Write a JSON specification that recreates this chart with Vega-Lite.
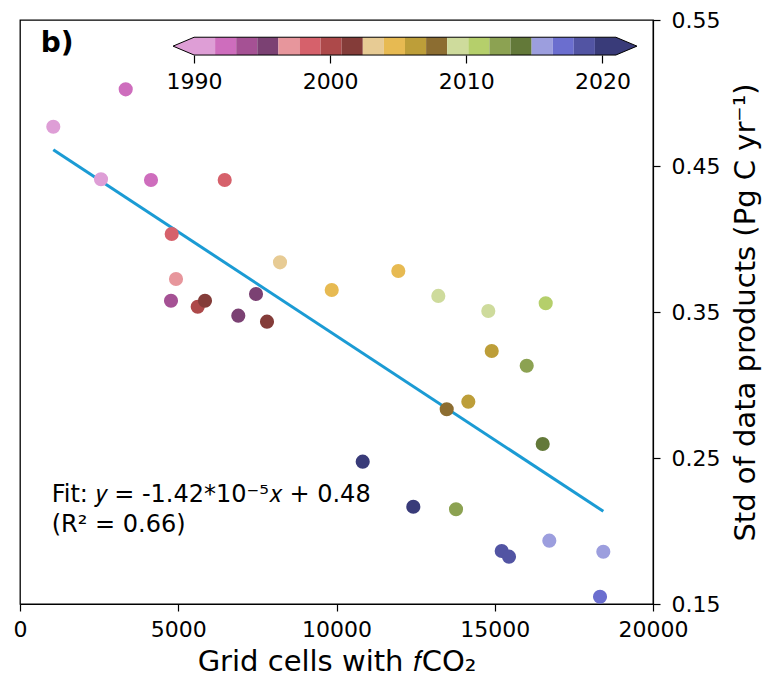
{
  "$schema": "https://vega.github.io/schema/vega-lite/v6.json",
  "width": 633,
  "height": 584,
  "autosize": {"type": "none"},
  "padding": {"left": 20, "top": 20, "right": 112, "bottom": 77},
  "background": "white",
  "config": {
    "font": "DejaVu Sans",
    "view": {"stroke": "black", "strokeWidth": 1.3},
    "axis": {"labelColor": "black", "titleColor": "black", "tickColor": "black", "domainColor": "black", "grid": false, "labelFont": "DejaVu Sans", "titleFont": "DejaVu Sans", "titleFontWeight": "normal", "labelFlush": false}
  },
  "layer": [
    {
      "layer": [
        {
          "data": {"values": [
            {"gx": 1052, "fit": 0.4611},
            {"gx": 18430, "fit": 0.2135}
          ]},
          "mark": {"type": "line", "color": "#1b9bd4", "strokeWidth": 3},
          "encoding": {
            "x": {"field": "gx", "type": "quantitative"},
            "y": {"field": "fit", "type": "quantitative"}
          }
        },
        {
          "data": {"values": [
            {"year": 1990, "cells": 1052, "std": 0.4769},
            {"year": 1991, "cells": 2559, "std": 0.4409},
            {"year": 1992, "cells": 3340, "std": 0.5025},
            {"year": 1993, "cells": 4139, "std": 0.4404},
            {"year": 1994, "cells": 4771, "std": 0.3577},
            {"year": 1995, "cells": 7457, "std": 0.3623},
            {"year": 1996, "cells": 6897, "std": 0.3475},
            {"year": 1997, "cells": 4929, "std": 0.3726},
            {"year": 1998, "cells": 6468, "std": 0.4404},
            {"year": 1999, "cells": 4793, "std": 0.4034},
            {"year": 2000, "cells": 5615, "std": 0.3536},
            {"year": 2001, "cells": 5845, "std": 0.3577},
            {"year": 2002, "cells": 7804, "std": 0.3434},
            {"year": 2003, "cells": 8215, "std": 0.384},
            {"year": 2004, "cells": 9849, "std": 0.3651},
            {"year": 2005, "cells": 11953, "std": 0.3781},
            {"year": 2006, "cells": 14904, "std": 0.3233},
            {"year": 2007, "cells": 14165, "std": 0.2886},
            {"year": 2008, "cells": 13482, "std": 0.2834},
            {"year": 2009, "cells": 13217, "std": 0.361},
            {"year": 2010, "cells": 14796, "std": 0.3507},
            {"year": 2011, "cells": 16610, "std": 0.356},
            {"year": 2012, "cells": 16010, "std": 0.3132},
            {"year": 2013, "cells": 13776, "std": 0.2149},
            {"year": 2014, "cells": 16515, "std": 0.2596},
            {"year": 2015, "cells": 16724, "std": 0.1934},
            {"year": 2016, "cells": 18430, "std": 0.1858},
            {"year": 2017, "cells": 18326, "std": 0.155},
            {"year": 2018, "cells": 15220, "std": 0.1863},
            {"year": 2019, "cells": 15450, "std": 0.1824},
            {"year": 2020, "cells": 10828, "std": 0.2475},
            {"year": 2021, "cells": 12427, "std": 0.2166}
          ]},
          "mark": {"type": "circle", "size": 200, "opacity": 1},
          "encoding": {
            "x": {"field": "cells", "type": "quantitative",
              "scale": {"domain": [0, 20000], "nice": false, "zero": false},
              "axis": {"orient": "bottom", "values": [0, 5000, 10000, 15000, 20000], "format": "d", "labelFontSize": 22, "tickSize": 7, "tickWidth": 1.2, "domainWidth": 1.2, "labelPadding": 8, "titleFontSize": 29, "titlePadding": 7, "title": "Grid cells with 𝑓CO₂"}},
            "y": {"field": "std", "type": "quantitative",
              "scale": {"domain": [0.15, 0.55], "nice": false, "zero": false},
              "axis": {"orient": "right", "values": [0.15, 0.25, 0.35, 0.45, 0.55], "format": ".2f", "labelFontSize": 22, "tickSize": 7, "tickWidth": 1.2, "domainWidth": 1.2, "labelPadding": 11, "titleFontSize": 29, "titleAngle": 270, "titleBaseline": "top", "titlePadding": 12, "title": "Std of data products (Pg C yr⁻¹)"}},
            "color": {"field": "year", "type": "quantitative",
              "scale": {"type": "quantize", "domain": [1990, 2021], "nice": false, "zero": false,
                "range": ["#de9ed6", "#ce6dbd", "#a55194", "#7b4173", "#e7969c", "#d6616b", "#ad494a", "#843c39", "#e7cb94", "#e7ba52", "#bd9e39", "#8c6d31", "#cedb9c", "#b5cf6b", "#8ca252", "#637939", "#9c9ede", "#6b6ecf", "#5254a3", "#393b79"]},
              "legend": null}
          }
        },
        {
          "data": {"values": [{}]},
          "mark": {"type": "text", "text": ["Fit: 𝑦 = -1.42*10⁻⁵𝑥 + 0.48", "(R² = 0.66)"], "align": "left", "baseline": "alphabetic", "fontSize": 24, "lineHeight": 30, "color": "black"},
          "encoding": {
            "x": {"datum": 1002, "type": "quantitative"},
            "y": {"datum": 0.2201, "type": "quantitative"}
          }
        },
        {
          "data": {"values": [{}]},
          "mark": {"type": "text", "text": "b)", "align": "left", "baseline": "alphabetic", "fontSize": 28, "fontWeight": "bold", "color": "black"},
          "encoding": {
            "x": {"datum": 654, "type": "quantitative"},
            "y": {"datum": 0.5283, "type": "quantitative"}
          }
        }
      ]
    },
    {
      "layer": [
        {
          "data": {"values": [
            {"lo": 1990.0, "hi": 1991.55, "mid": 1990.775},
            {"lo": 1991.55, "hi": 1993.1, "mid": 1992.325},
            {"lo": 1993.1, "hi": 1994.65, "mid": 1993.875},
            {"lo": 1994.65, "hi": 1996.2, "mid": 1995.425},
            {"lo": 1996.2, "hi": 1997.75, "mid": 1996.975},
            {"lo": 1997.75, "hi": 1999.3, "mid": 1998.525},
            {"lo": 1999.3, "hi": 2000.85, "mid": 2000.075},
            {"lo": 2000.85, "hi": 2002.4, "mid": 2001.625},
            {"lo": 2002.4, "hi": 2003.95, "mid": 2003.175},
            {"lo": 2003.95, "hi": 2005.5, "mid": 2004.725},
            {"lo": 2005.5, "hi": 2007.05, "mid": 2006.275},
            {"lo": 2007.05, "hi": 2008.6, "mid": 2007.825},
            {"lo": 2008.6, "hi": 2010.15, "mid": 2009.375},
            {"lo": 2010.15, "hi": 2011.7, "mid": 2010.925},
            {"lo": 2011.7, "hi": 2013.25, "mid": 2012.475},
            {"lo": 2013.25, "hi": 2014.8, "mid": 2014.025},
            {"lo": 2014.8, "hi": 2016.35, "mid": 2015.575},
            {"lo": 2016.35, "hi": 2017.9, "mid": 2017.125},
            {"lo": 2017.9, "hi": 2019.45, "mid": 2018.675},
            {"lo": 2019.45, "hi": 2021.0, "mid": 2020.225}
          ]},
          "mark": {"type": "rect", "strokeWidth": 0},
          "encoding": {
            "x": {"field": "lo", "type": "quantitative",
              "scale": {"domain": [1977.218, 2023.718], "nice": false, "zero": false},
              "axis": {"orient": "bottom", "offset": -549, "values": [1990, 2000, 2010, 2020], "format": "d", "domain": false, "labelFontSize": 22, "tickSize": 8, "tickWidth": 1.2, "labelPadding": 8, "labelFlush": false, "title": null}},
            "x2": {"field": "hi"},
            "y": {"datum": 0.5382, "type": "quantitative"},
            "y2": {"datum": 0.526},
            "color": {"field": "mid", "type": "quantitative", "legend": null,
              "scale": {"type": "quantize", "domain": [1990, 2021], "nice": false, "zero": false,
                "range": ["#de9ed6", "#ce6dbd", "#a55194", "#7b4173", "#e7969c", "#d6616b", "#ad494a", "#843c39", "#e7cb94", "#e7ba52", "#bd9e39", "#8c6d31", "#cedb9c", "#b5cf6b", "#8ca252", "#637939", "#9c9ede", "#6b6ecf", "#5254a3", "#393b79"]}}
          }
        },
        {
          "data": {"values": [{"yr": 1990.5, "side": "low"}, {"yr": 2020.5, "side": "high"}]},
          "mark": {"type": "point", "filled": true, "size": 313, "stroke": "black", "strokeWidth": 1, "opacity": 1},
          "encoding": {
            "x": {"field": "edge", "type": "quantitative"},
            "y": {"datum": 0.5321, "type": "quantitative"},
            "shape": {"field": "side", "type": "nominal", "legend": null,
              "scale": {"domain": ["low", "high"], "range": ["M0,-1L-2.37,0L0,1", "M0,-1L2.37,0L0,1"]}},
            "fill": {"field": "yr", "type": "quantitative", "legend": null,
              "scale": {"type": "quantize", "domain": [1990, 2021], "nice": false, "zero": false,
                "range": ["#de9ed6", "#ce6dbd", "#a55194", "#7b4173", "#e7969c", "#d6616b", "#ad494a", "#843c39", "#e7cb94", "#e7ba52", "#bd9e39", "#8c6d31", "#cedb9c", "#b5cf6b", "#8ca252", "#637939", "#9c9ede", "#6b6ecf", "#5254a3", "#393b79"]}}
          },
          "transform": [{"lookup": "side", "from": {"data": {"values": [{"side": "low", "edge": 1990}, {"side": "high", "edge": 2021}]}, "key": "side", "fields": ["edge"]}}]
        },
        {
          "data": {"values": [{"edge": "top"}]},
          "mark": {"type": "rule", "color": "black", "strokeWidth": 1},
          "encoding": {
            "x": {"datum": 1990, "type": "quantitative"},
            "x2": {"datum": 2021},
            "y": {"datum": 0.5382, "type": "quantitative"}
          }
        },
        {
          "data": {"values": [{"edge": "bottom"}]},
          "mark": {"type": "rule", "color": "black", "strokeWidth": 1},
          "encoding": {
            "x": {"datum": 1990, "type": "quantitative"},
            "x2": {"datum": 2021},
            "y": {"datum": 0.526, "type": "quantitative"}
          }
        }
      ]
    }
  ],
  "resolve": {"scale": {"x": "independent"}, "axis": {"x": "independent"}}
}
